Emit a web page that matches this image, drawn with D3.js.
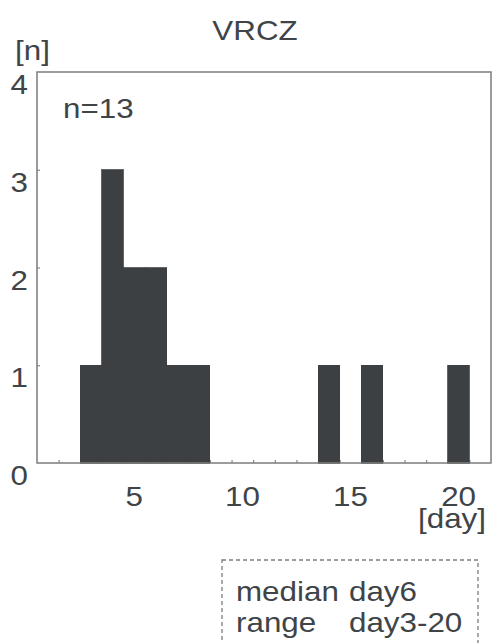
<!DOCTYPE html>
<html>
<head>
<meta charset="utf-8">
<script src="https://cdn.jsdelivr.net/npm/d3@7"></script>
<style>
  body { margin: 0; background: #fff; }
  text { font-family: "Liberation Sans", Arial, sans-serif; fill: #3f4447; }
</style>
</head>
<body>
<div id="content"></div>
<script>
// Histogram data: day of onset and number of cases.
var days = [3, 4, 5, 6, 7, 8, 14, 16, 20];
var counts = [1, 3, 2, 2, 1, 1, 1, 1, 1];
var xTickLabels = [5, 10, 15, 20];
var yTickLabels = [0, 1, 2, 3, 4];
var title = "VRCZ";
var statLines = [["median", "day6"], ["range", "day3-20"]];

var data = days.map(function(d, i) { return {day : d, n : counts[i]}; });

var W = 493, H = 643;
var margin = {left : 37, right : 2, top : 72, bottom : 180};
var width = W - margin.left - margin.right;
var height = H - margin.top - margin.bottom;

var svg = d3.select('#content')
              .append('svg')
              .attr('width', W)
              .attr('height', H);

var g = svg.append('g').attr('transform', 'translate(' + margin.left + ',' +
                                              margin.top + ')');

var scaleX = d3.scaleLinear().domain([ 0.5, 21.5 ]).range([ 0, width ]);
var scaleY = d3.scaleLinear().domain([ 0, 4 ]).range([ height, 0 ]);

// Text is a bit wider than Arial in the original, stretch it.
function label(parent, str, x, y, anchor, size) {
  return parent.append('text')
      .attr('transform', 'translate(' + x + ',' + y + ') scale(1.12,1)')
      .attr('text-anchor', anchor || 'start')
      .style('font-size', (size || 28) + 'px')
      .text(str);
}

// Small inward ticks (bin edges on x, integers on y).
var minorX = g.append('g')
                 .attr('transform', 'translate(0,' + height + ')')
                 .call(d3.axisBottom(scaleX)
                           .tickValues(d3.range(1.5, 21.5, 1))
                           .tickSize(-3)
                           .tickFormat(''));
var minorY = g.append('g').call(
    d3.axisLeft(scaleY).tickValues([ 1, 2, 3 ]).tickSize(-3).tickFormat(''));
[minorX, minorY].forEach(function(a) {
  a.select('.domain').remove();
  a.selectAll('line').attr('stroke', '#8a8a8a').attr('stroke-width', 1.2);
});

// Bars, one day wide; neighbours merge into one block.
g.selectAll('rect.bar')
    .data(data)
    .enter()
    .append('rect')
    .attr('class', 'bar')
    .attr('x', function(d) { return scaleX(d.day - 0.5); })
    .attr('y', function(d) { return scaleY(d.n); })
    .attr('width', function(d) { return scaleX(d.day + 0.5) - scaleX(d.day - 0.5); })
    .attr('height', function(d) { return height - scaleY(d.n); })
    .attr('shape-rendering', 'crispEdges')
    .style('fill', '#3d4042')
    .style('stroke', '#3d4042')
    .style('stroke-width', 0.8);

// Frame.
g.append('rect')
    .attr('x', 0)
    .attr('y', 0)
    .attr('width', width)
    .attr('height', height)
    .attr('fill', 'none')
    .attr('stroke', '#7c7c7c')
    .attr('stroke-width', 1.5);

// Tick labels.
xTickLabels.forEach(function(v) {
  label(g, v, scaleX(v), height + 43, 'middle');
});
yTickLabels.forEach(function(v) {
  label(g, v, -9, scaleY(v) + 22, 'end');
});

// Titles and axis units.
label(svg, title, 255, 40, 'middle');
label(svg, '[n]', 15, 60, 'start');
label(svg, '[day]', 486, 528, 'end');
label(g, 'n=' + d3.sum(counts), 63 - margin.left, 118 - margin.top, 'start');

// Dashed statistics box.
var box = svg.append('g');
box.append('rect')
    .attr('x', 222)
    .attr('y', 560)
    .attr('width', 256)
    .attr('height', 120)
    .attr('fill', 'none')
    .attr('stroke', '#7c7c7c')
    .attr('stroke-width', 1.3)
    .attr('stroke-dasharray', '4,3');
statLines.forEach(function(l, i) {
  label(box, l[0], 236, 601 + i * 31, 'start');
  label(box, l[1], 349, 601 + i * 31, 'start');
});
</script>
</body>
</html>
